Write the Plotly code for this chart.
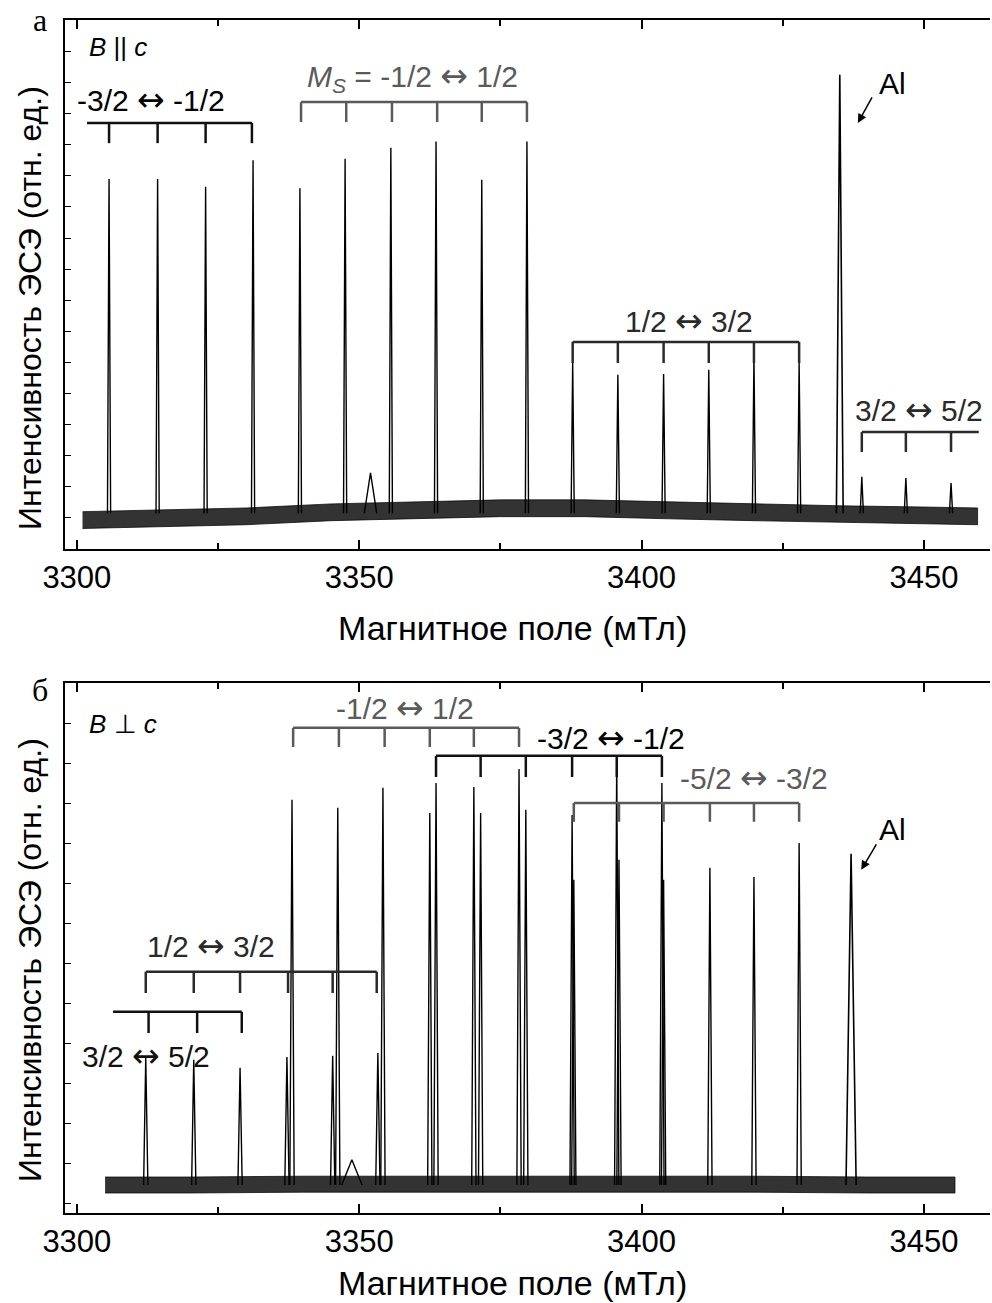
import plotly.graph_objects as go

W, H = 992, 1303

# ---------------- Panel а : B || c ----------------
a_m32_pos = [3305.7, 3314.3, 3322.8, 3331.2]          # -3/2 <-> -1/2
a_m32_int = [11.9, 11.9, 11.65, 12.5]
a_m12_pos = [3339.5, 3347.5, 3355.6, 3363.6, 3371.7, 3379.7]   # -1/2 <-> 1/2
a_m12_int = [11.6, 12.55, 12.9, 13.1, 11.87, 13.1]
a_p12_pos = [3387.8, 3395.8, 3403.9, 3411.9, 3419.9, 3427.9]   # 1/2 <-> 3/2
a_p12_int = [6.0, 5.6, 5.63, 5.76, 6.18, 6.0]
a_p32_pos = [3439.0, 3446.8, 3454.8]                   # 3/2 <-> 5/2
a_p32_int = [2.32, 2.28, 2.12]
a_al_pos, a_al_int = [3435.1], [15.25]
a_bump_pos, a_bump_int = [3352.0], [2.45]
a_base = 1.15
a_bg_field = [3301.0, 3315, 3330, 3345, 3360, 3375, 3390, 3405, 3420, 3435, 3450, 3459.5]
a_bg_lo = [0.66, 0.72, 0.78, 0.91, 0.97, 1.04, 1.04, 0.97, 0.91, 0.85, 0.81, 0.78]
a_bg_hi = [1.20, 1.26, 1.32, 1.45, 1.51, 1.58, 1.58, 1.51, 1.45, 1.39, 1.35, 1.32]

# ---------------- Panel б : B ⊥ c ----------------
b_p32_pos = [3312.2, 3320.7, 3328.9, 3337.2, 3345.3, 3353.3]   # small lines
b_p32_int = [3.63, 3.58, 3.38, 3.65, 3.68, 3.75]
b_m12_pos = [3338.1, 3346.2, 3354.2, 3362.5, 3370.3, 3378.3]   # -1/2 <-> 1/2
b_m12_int = [10.08, 9.88, 10.38, 9.75, 10.4, 10.85]
b_m32_pos = [3363.6, 3371.5, 3379.5, 3387.7, 3395.6, 3403.6]   # -3/2 <-> -1/2
b_m32_int = [10.5, 9.75, 9.83, 9.7, 11.18, 10.5]
b_m52_pos = [3388.0, 3396.0, 3403.9, 3412.1, 3419.9, 3427.9]   # -5/2 <-> -3/2
b_m52_int = [8.08, 8.58, 8.08, 8.38, 8.15, 9.0]
b_al_pos, b_al_int = [3437.1], [8.73]
b_bump_pos, b_bump_int = [3348.7], [1.08]
b_base = 0.45
b_bg_field = [3305.0, 3320, 3340, 3360, 3380, 3400, 3420, 3440, 3455.5]
b_bg_lo = [0.25, 0.25, 0.27, 0.27, 0.27, 0.27, 0.27, 0.25, 0.25]
b_bg_hi = [0.65, 0.65, 0.67, 0.67, 0.67, 0.67, 0.67, 0.65, 0.65]

# bracket tick positions (mT)
a_br_m32 = [3305.7, 3314.3, 3322.8, 3331.0]
a_br_m12 = [3339.7, 3347.7, 3355.8, 3363.8, 3371.7, 3379.7]
a_br_p12 = [3387.8, 3395.8, 3403.9, 3411.9, 3419.9, 3427.9]
a_br_p32 = [3439.0, 3446.8, 3454.8]
b_br_m12 = [3338.3, 3346.4, 3354.5, 3362.5, 3370.3, 3378.3]
b_br_m32 = [3363.6, 3371.5, 3379.5, 3387.7, 3395.6, 3403.6]
b_br_m52 = [3388.0, 3396.0, 3403.9, 3412.1, 3419.9, 3427.9]
b_br_p12 = [3312.2, 3320.7, 3328.9, 3337.4, 3345.3, 3353.1]
b_br_p32 = [3312.7, 3321.3, 3329.2]

x_ticks = [3300, 3350, 3400, 3450]
x_title = "Магнитное поле (мТл)"
y_title = "Интенсивность ЭСЭ (отн. ед.)"

FONT = "Liberation Sans, Arial, sans-serif"
GRAY = "#5a5a5a"
DARK = "#2a2a2a"
BLACK = "#111111"
ARROW = '<span style="font-family:DejaVu Sans;font-size:33px">↔</span>'

fig = go.Figure()


def peaks_trace(pos, ints, base, hw, xa, ya, width=1.4):
    xs, ys = [], []
    for p, h in zip(pos, ints):
        xs += [p - hw, p, p + hw, None]
        ys += [base, h, base, None]
    return go.Scatter(x=xs, y=ys, mode="lines", xaxis=xa, yaxis=ya,
                      line=dict(color="black", width=width), hoverinfo="skip",
                      showlegend=False)


def band_trace(f, lo, hi, xa, ya):
    return go.Scatter(x=list(f) + list(f)[::-1], y=list(hi) + list(lo)[::-1],
                      mode="lines", fill="toself", fillcolor="rgba(0,0,0,0.8)",
                      line=dict(width=0.8, color="rgba(0,0,0,0.9)"),
                      xaxis=xa, yaxis=ya, hoverinfo="skip", showlegend=False)


def bracket_trace(ticks, x_start, x_end, y_line, y_tick, color, xa, ya):
    xs = [x_start, x_end, None]
    ys = [y_line, y_line, None]
    for t in ticks:
        xs += [t, t, None]
        ys += [y_line, y_tick, None]
    return go.Scatter(x=xs, y=ys, mode="lines", xaxis=xa, yaxis=ya,
                      line=dict(color=color, width=2.5), hoverinfo="skip",
                      showlegend=False)


# ---- panel а traces
fig.add_trace(band_trace(a_bg_field, a_bg_lo, a_bg_hi, "x", "y"))
for pos, ints in [(a_m32_pos, a_m32_int), (a_m12_pos, a_m12_int),
                  (a_p12_pos, a_p12_int), (a_p32_pos, a_p32_int)]:
    fig.add_trace(peaks_trace(pos, ints, a_base, 0.28, "x", "y"))
fig.add_trace(peaks_trace(a_al_pos, a_al_int, a_base, 0.6, "x", "y", 1.6))
fig.add_trace(peaks_trace(a_bump_pos, a_bump_int, a_base, 1.1, "x", "y"))

fig.add_trace(bracket_trace(a_br_m32, 3301.8, a_br_m32[-1], 13.7, 13.05, BLACK, "x", "y"))
fig.add_trace(bracket_trace(a_br_m12, a_br_m12[0], a_br_m12[-1], 14.37, 13.73, GRAY, "x", "y"))
fig.add_trace(bracket_trace(a_br_p12, a_br_p12[0], a_br_p12[-1], 6.66, 5.98, DARK, "x", "y"))
fig.add_trace(bracket_trace(a_br_p32, a_br_p32[0], 3459.7, 3.76, 3.12, DARK, "x", "y"))

# ---- panel б traces
fig.add_trace(band_trace(b_bg_field, b_bg_lo, b_bg_hi, "x2", "y2"))
for pos, ints in [(b_p32_pos, b_p32_int), (b_m12_pos, b_m12_int),
                  (b_m32_pos, b_m32_int), (b_m52_pos, b_m52_int)]:
    fig.add_trace(peaks_trace(pos, ints, b_base, 0.38, "x2", "y2"))
fig.add_trace(peaks_trace(b_al_pos, b_al_int, b_base, 0.9, "x2", "y2", 1.6))
fig.add_trace(peaks_trace(b_bump_pos, b_bump_int, b_base, 1.8, "x2", "y2"))

fig.add_trace(bracket_trace(b_br_m12, b_br_m12[0], b_br_m12[-1], 11.88, 11.4, GRAY, "x2", "y2"))
fig.add_trace(bracket_trace(b_br_m32, b_br_m32[0], b_br_m32[-1], 11.18, 10.65, BLACK, "x2", "y2"))
fig.add_trace(bracket_trace(b_br_m52, b_br_m52[0], b_br_m52[-1], 10.0, 9.53, GRAY, "x2", "y2"))
fig.add_trace(bracket_trace(b_br_p12, b_br_p12[0], b_br_p12[-1], 5.78, 5.25, DARK, "x2", "y2"))
fig.add_trace(bracket_trace(b_br_p32, 3306.4, b_br_p32[-1], 4.78, 4.25, BLACK, "x2", "y2"))


def px_x(px):
    return px / W


def px_y(py):
    return 1 - py / H


xdom = [px_x(65), px_x(990)]
xcommon = dict(range=[3297.9, 3461.7], tickvals=x_ticks, ticks="inside", ticklen=9,
               tickwidth=1.5, tickcolor="black", showline=True, linewidth=2,
               linecolor="black", mirror="ticks", showgrid=False, zeroline=False,
               tickfont=dict(family=FONT, size=31, color="black"),
               minor=dict(dtick=25, tick0=3300, ticks="inside", ticklen=6,
                          tickwidth=1.5, tickcolor="black", showgrid=False),
               domain=xdom)
ycommon = dict(ticks="inside", ticklen=6, tickwidth=1.2, tickcolor="black",
               showline=True, linewidth=2, linecolor="black", mirror=False,
               showticklabels=False, showgrid=False, zeroline=False, dtick=1, tick0=0)

fig.update_layout(
    width=W, height=H, margin=dict(l=0, r=0, t=0, b=0, autoexpand=False),
    paper_bgcolor="white", plot_bgcolor="white", showlegend=False,
    xaxis=dict(anchor="y", **xcommon),
    yaxis=dict(anchor="x", domain=[px_y(549), px_y(20)], range=[0, 17.01], **ycommon),
    xaxis2=dict(anchor="y2", **xcommon),
    yaxis2=dict(anchor="x2", domain=[px_y(1213), px_y(683)], range=[-0.25, 13.0], **ycommon),
)

ann = []


def txt(text, x, y, xref, yref, size=30, color="black", family=FONT, xanchor="center",
        angle=0):
    ann.append(dict(text=text, x=x, y=y, xref=xref, yref=yref, showarrow=False,
                    xanchor=xanchor, yanchor="middle", textangle=angle,
                    font=dict(family=family, size=size, color=color)))


# axis titles
for ty in (628, 1283):
    txt(x_title, px_x(512), px_y(ty), "paper", "paper", size=34)
for ty in (308, 960):
    txt(y_title, px_x(30), px_y(ty), "paper", "paper", size=32, angle=-90)

# panel letters
txt("а", px_x(40), px_y(20), "paper", "paper", size=32, family="Liberation Serif, serif")
txt("б", px_x(40), px_y(690), "paper", "paper", size=32, family="Liberation Serif, serif")

# orientation labels
txt("<i>B</i> || <i>c</i>", px_x(87), px_y(47), "paper", "paper", size=26, xanchor="left")
txt("<i>B</i> ⊥ <i>c</i>", px_x(87), px_y(724), "paper", "paper", size=26, xanchor="left")

# panel а labels
txt("-3/2 " + ARROW + " -1/2", 3313.1, 14.44, "x", "y")
txt("<i>M</i><sub><i>S</i></sub> = -1/2 " + ARROW + " 1/2", 3359.5, 15.2, "x", "y", color=GRAY)
txt("1/2 " + ARROW + " 3/2", 3408.4, 7.36, "x", "y", color=DARK)
txt("3/2 " + ARROW + " 5/2", 3449.1, 4.47, "x", "y", color=DARK)
txt("Al", 3444.5, 14.98, "x", "y")

# panel б labels
txt("-1/2 " + ARROW + " 1/2", 3358.1, 12.38, "x2", "y2", color=GRAY)
txt("-3/2 " + ARROW + " -1/2", 3394.6, 11.63, "x2", "y2")
txt("-5/2 " + ARROW + " -3/2", 3419.9, 10.63, "x2", "y2", color=GRAY)
txt("1/2 " + ARROW + " 3/2", 3323.7, 6.43, "x2", "y2", color=DARK)
txt("3/2 " + ARROW + " 5/2", 3312.2, 3.7, "x2", "y2", color=BLACK)
txt("Al", 3444.5, 9.33, "x2", "y2")

# arrows to Al lines
ann.append(dict(x=3438.3, y=13.7, xref="x", yref="y", ax=15, ay=-27, text="",
                showarrow=True, arrowhead=2, arrowsize=1.2, arrowwidth=1.5,
                arrowcolor="black"))
ann.append(dict(x=3438.9, y=8.33, xref="x2", yref="y2", ax=16, ay=-27, text="",
                showarrow=True, arrowhead=2, arrowsize=1.2, arrowwidth=1.5,
                arrowcolor="black"))

fig.update_layout(annotations=ann)
fig.write_html("out.html")
